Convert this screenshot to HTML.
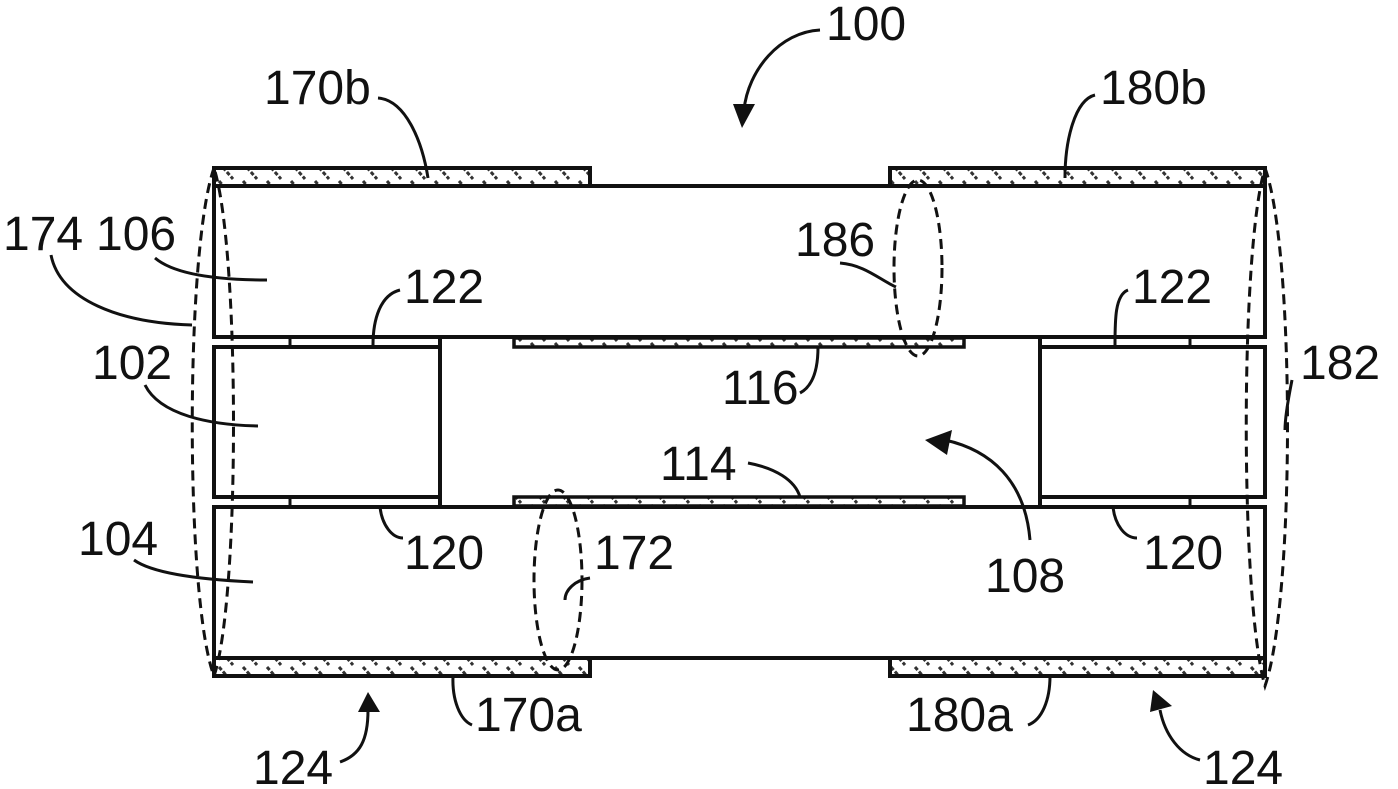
<!DOCTYPE html>
<html><head><meta charset="utf-8"><style>
html,body{margin:0;padding:0;background:#fff;}
svg{display:block;}
text{font-family:"Liberation Sans",sans-serif;font-size:48px;fill:#111;}
</style></head><body>
<svg width="1398" height="789" viewBox="0 0 1398 789" xmlns="http://www.w3.org/2000/svg">
<defs>
<pattern id="h" width="24" height="18" patternUnits="userSpaceOnUse">
<path d="M3 1 L17 17" stroke="#333" stroke-width="3" stroke-dasharray="4 2" fill="none"/>
</pattern>
</defs>
<g stroke="#111" stroke-width="4" fill="none">
<rect x="214" y="168" width="376" height="18" fill="url(#h)"/>
<rect x="890" y="168" width="375" height="18" fill="url(#h)"/>
<rect x="214" y="658" width="376" height="18" fill="url(#h)"/>
<rect x="890" y="658" width="375" height="18" fill="url(#h)"/>
<rect x="514" y="338" width="450" height="9" fill="url(#h)" stroke-width="3.5"/>
<rect x="514" y="497" width="450" height="9" fill="url(#h)" stroke-width="3.5"/>
<rect x="214" y="186" width="1051" height="151"/>
<rect x="214" y="507" width="1051" height="151"/>
<rect x="214" y="347" width="226" height="150"/>
<rect x="1040" y="347" width="225" height="150"/>
<line x1="440" y1="337" x2="440" y2="507"/>
<line x1="1040" y1="337" x2="1040" y2="507"/>
<line x1="290" y1="337" x2="290" y2="347" stroke-width="3"/>
<line x1="290" y1="497" x2="290" y2="507" stroke-width="3"/>
<line x1="1190" y1="337" x2="1190" y2="347" stroke-width="3"/>
<line x1="1190" y1="497" x2="1190" y2="507" stroke-width="3"/>
</g>
<g stroke="#111" stroke-width="3" fill="none" stroke-dasharray="10 6">
<path d="M214 168 C185 250 185 600 214 676 C240 600 240 250 214 168"/>
<path d="M1265 168 C1295 250 1295 600 1265 686 C1240 600 1240 250 1265 168"/>
<ellipse cx="918" cy="268" rx="24" ry="88"/>
<ellipse cx="558" cy="580" rx="24" ry="90"/>
</g>
<g stroke="#111" stroke-width="3" fill="none">
<path d="M820 30 C780 32 748 70 744 110"/>
<path d="M378 98 C405 100 422 140 428 178"/>
<path d="M1095 95 C1075 100 1065 140 1065 178"/>
<path d="M51 255 C60 300 120 323 192 325"/>
<path d="M155 258 C175 275 220 280 267 280"/>
<path d="M145 385 C160 415 210 425 258 426"/>
<path d="M134 560 C155 575 210 580 253 582"/>
<path d="M400 290 C380 295 373 320 373 345"/>
<path d="M1128 290 C1115 295 1115 320 1115 345"/>
<path d="M840 263 C865 265 880 280 896 287"/>
<path d="M800 393 C815 385 818 365 818 347"/>
<path d="M748 463 C775 468 795 480 800 497"/>
<path d="M380 507 C382 525 392 538 403 538"/>
<path d="M1113 507 C1115 525 1125 538 1137 538"/>
<path d="M590 578 C575 580 565 590 565 600"/>
<path d="M1292 380 C1288 400 1285 420 1285 430"/>
<path d="M1030 540 C1025 480 990 450 945 440"/>
<path d="M453 676 C452 700 460 720 472 725"/>
<path d="M1050 676 C1050 700 1042 720 1028 725"/>
<path d="M340 762 C360 755 368 740 368 710"/>
<path d="M1200 760 C1180 755 1165 735 1160 710"/>
</g>
<g fill="#111">
<polygon points="733,104 755,104 742,128"/>
<polygon points="925,440 952,430 947,455"/>
<polygon points="358,712 380,712 368,692"/>
<polygon points="1150,712 1172,706 1153,690"/>
</g>
<text x="826" y="40">100</text>
<text x="264" y="104">170b</text>
<text x="1100" y="104">180b</text>
<text x="3" y="250">174</text>
<text x="96" y="250">106</text>
<text x="795" y="256">186</text>
<text x="404" y="303">122</text>
<text x="1132" y="303">122</text>
<text x="92" y="379">102</text>
<text x="722" y="404">116</text>
<text x="1300" y="379">182</text>
<text x="660" y="480">114</text>
<text x="78" y="555">104</text>
<text x="404" y="569">120</text>
<text x="1143" y="569">120</text>
<text x="594" y="569">172</text>
<text x="985" y="592">108</text>
<text x="475" y="731">170a</text>
<text x="906" y="731">180a</text>
<text x="253" y="784">124</text>
<text x="1203" y="784">124</text>
</svg>
</body></html>
